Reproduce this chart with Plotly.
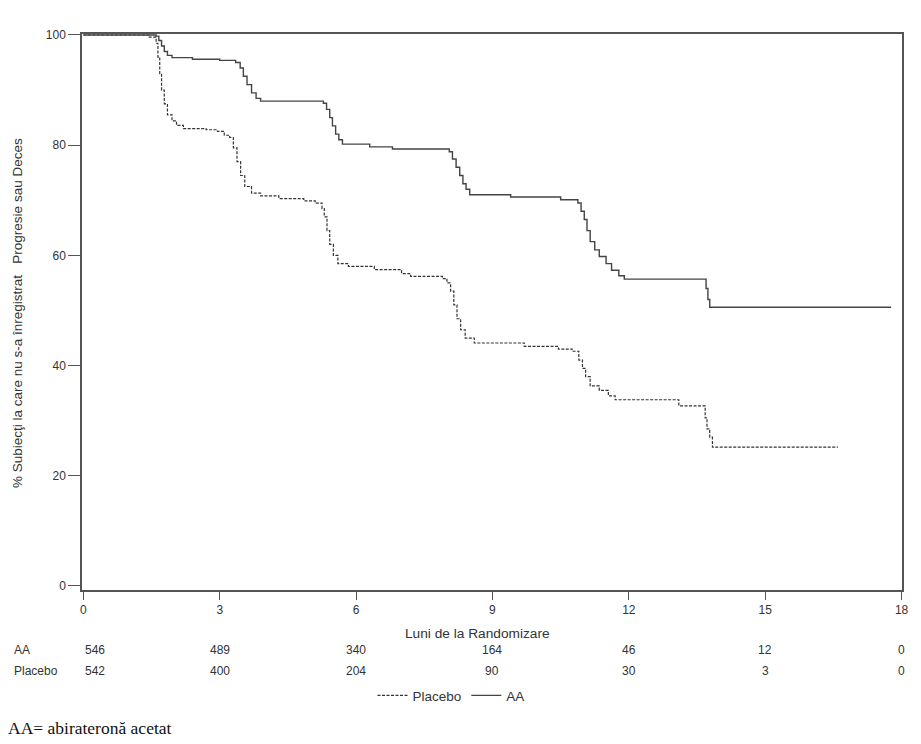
import plotly.graph_objects as go

# Kaplan-Meier step data (months, % without progression or death)
aa_time = [0, 1.60, 1.66, 1.72, 1.78, 1.85, 1.95, 2.4, 3.0, 3.35, 3.45, 3.52, 3.60, 3.70, 3.80, 3.90,
           5.28, 5.35, 5.42, 5.48, 5.55, 5.62, 5.70, 6.30, 6.80, 8.05, 8.12, 8.20, 8.28, 8.35, 8.42, 8.50,
           9.40, 10.50, 10.88, 10.95, 11.02, 11.08, 11.15, 11.25, 11.35, 11.50, 11.62, 11.78, 11.90,
           13.70, 13.74, 13.78, 17.77]
aa_surv = [100, 99.8, 99.0, 98.0, 97.0, 96.3, 95.9, 95.6, 95.4, 95.0, 94.0, 92.5, 91.0, 89.5, 88.5, 88.0,
           87.6, 86.5, 85.0, 83.5, 82.0, 81.0, 80.2, 79.7, 79.3, 78.8, 77.5, 76.0, 74.5, 73.0, 72.0, 71.0,
           70.6, 70.1, 69.5, 68.0, 66.5, 64.5, 62.5, 61.0, 59.8, 58.5, 57.3, 56.3, 55.7,
           54.0, 52.0, 50.6, 50.6]

pl_time = [0, 1.45, 1.60, 1.64, 1.68, 1.72, 1.78, 1.85, 1.95, 2.05, 2.20, 2.70, 2.95, 3.10, 3.22, 3.30,
           3.38, 3.46, 3.55, 3.70, 3.90, 4.30, 4.85, 5.10, 5.25, 5.30, 5.36, 5.42, 5.50, 5.60, 5.83,
           6.40, 7.00, 7.20, 7.90, 8.00, 8.08, 8.15, 8.22, 8.30, 8.40, 8.60, 9.70, 10.45, 10.75, 10.90,
           10.98, 11.05, 11.15, 11.35, 11.55, 11.70, 13.10, 13.68, 13.72, 13.78, 13.84, 16.60]
pl_surv = [100, 99.6, 98.5, 96.0, 93.0, 90.0, 87.5, 85.5, 84.4, 83.6, 83.0, 82.8, 82.5, 81.8, 81.4, 79.5,
           77.0, 74.5, 72.5, 71.3, 70.8, 70.3, 69.9, 69.5, 68.5, 67.0, 64.5, 62.0, 60.0, 58.5, 58.0,
           57.4, 56.7, 56.2, 55.8, 55.0, 53.5, 51.0, 48.5, 46.5, 45.0, 44.1, 43.5, 43.0, 42.6, 41.0,
           39.5, 38.0, 36.3, 35.5, 34.5, 33.8, 32.7, 30.5, 28.5, 27.0, 25.2, 25.2]

risk_times = [0, 3, 6, 9, 12, 15, 18]
risk_aa = [546, 489, 340, 164, 46, 12, 0]
risk_placebo = [542, 400, 204, 90, 30, 3, 0]

x_ticks = [0, 3, 6, 9, 12, 15, 18]
y_ticks = [0, 20, 40, 60, 80, 100]

SANS = "Liberation Sans, Arial, sans-serif"
TXT = "#333333"
AX = "#555555"

fig = go.Figure()
fig.add_trace(go.Scatter(x=pl_time, y=pl_surv, mode="lines", name="Placebo",
                         line=dict(shape="hv", color="#333333", width=1.2, dash="3px,1.5px")))
fig.add_trace(go.Scatter(x=aa_time, y=aa_surv, mode="lines", name="AA",
                         line=dict(shape="hv", color="#444444", width=1.4)))

fig.update_layout(
    width=921, height=744,
    margin=dict(l=82, r=19, t=34, b=154),
    paper_bgcolor="white", plot_bgcolor="white",
    font=dict(family=SANS, size=12, color=TXT),
    showlegend=True,
    legend=dict(orientation="h", x=0.45, xanchor="center", y=-0.19, yanchor="middle",
                font=dict(family=SANS, size=13.5, color=TXT), itemwidth=30,
                bgcolor="rgba(0,0,0,0)", tracegroupgap=0),
)
fig.update_xaxes(range=[-0.03, 18.01], tickvals=x_ticks, ticks="outside", ticklen=8,
                 tickcolor=AX, tickwidth=1.2, showline=True, linecolor=AX, linewidth=1.5,
                 mirror=True, showgrid=False, zeroline=False,
                 tickfont=dict(family=SANS, size=12, color=TXT))
fig.update_yaxes(range=[-0.73, 100.18], tickvals=y_ticks, ticks="outside", ticklen=12,
                 tickcolor=AX, tickwidth=1.2, showline=True, linecolor=AX, linewidth=1.5,
                 mirror=True, showgrid=False, zeroline=False,
                 tickfont=dict(family=SANS, size=12, color=TXT))

ann = []
ann.append(dict(text="% Subiecţi la care nu s-a înregistrat &nbsp; Progresie sau Deces",
                xref="paper", yref="paper", x=(17 - 82) / 820, y=(590 - 313) / 556,
                xanchor="center", yanchor="middle", textangle=-90, showarrow=False,
                font=dict(family=SANS, size=13.5, color=TXT)))
ann.append(dict(text="Luni de la Randomizare", xref="paper", yref="paper",
                x=(477 - 82) / 820, y=(590 - 633) / 556, xanchor="center", yanchor="middle",
                showarrow=False, font=dict(family=SANS, size=13.7, color=TXT)))
row_y = {"AA": (590 - 650) / 556, "Placebo": (590 - 671) / 556}
for name, vals in (("AA", risk_aa), ("Placebo", risk_placebo)):
    ann.append(dict(text=name, xref="paper", yref="paper", x=(12 - 82) / 820, y=row_y[name],
                    xanchor="left", yanchor="middle", showarrow=False,
                    font=dict(family=SANS, size=12, color=TXT)))
    for t, v in zip(risk_times, vals):
        ann.append(dict(text=str(v), xref="x", yref="paper", x=t, y=row_y[name],
                        xanchor="left" if t == 0 else "center", yanchor="middle",
                        showarrow=False, font=dict(family=SANS, size=12, color=TXT)))
ann.append(dict(text="AA= abirateronă acetat", xref="paper", yref="paper",
                x=(6 - 82) / 820, y=(590 - 728) / 556, xanchor="left", yanchor="middle",
                showarrow=False, font=dict(family="Liberation Serif, Times New Roman, serif",
                                           size=17.5, color="#111111")))
fig.update_layout(annotations=ann)

fig.write_html("out.html")
